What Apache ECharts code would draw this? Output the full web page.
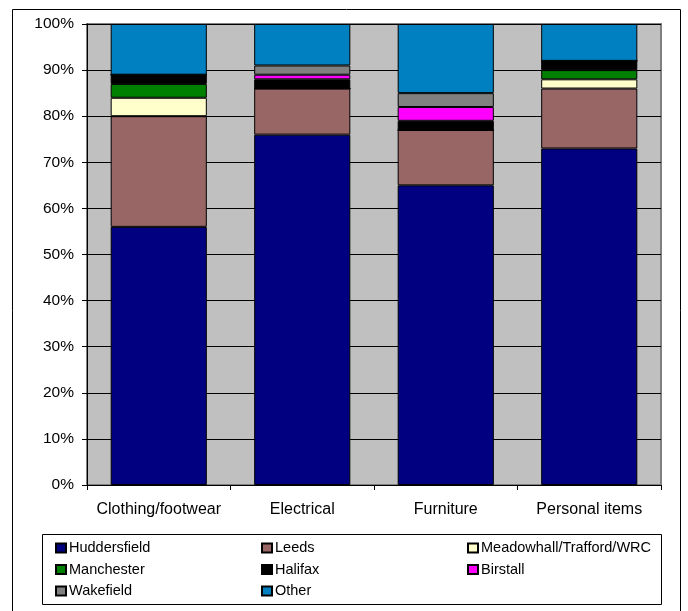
<!DOCTYPE html>
<html>
<head>
<meta charset="utf-8">
<script src="https://cdn.jsdelivr.net/npm/echarts@6/dist/echarts.min.js"></script>
<style>
  html, body { margin: 0; padding: 0; background: #ffffff; }
  #chart { width: 688px; height: 611px; }
</style>
</head>
<body>
<div id="chart"></div>
<script>
// Product categories along the x axis
const categories = ['Clothing/footwear', 'Electrical', 'Furniture', 'Personal items'];

// Share of shopping trips (%) by destination, per category
const huddersfield = [56, 76, 65, 73];
const leeds        = [24, 10, 12, 13];
const meadowhall   = [4, 0, 0, 2];
const manchester   = [3, 0, 0, 2];
const halifax      = [2, 2, 2, 2];
const birstall     = [0, 1, 3, 0];
const wakefield    = [0, 2, 3, 0];
const other        = [11, 9, 15, 8];

// Y axis tick labels
const yTicks = ['0%', '10%', '20%', '30%', '40%', '50%', '60%', '70%', '80%', '90%', '100%'];

const seriesDefs = [
  { name: 'Huddersfield', data: huddersfield, color: '#000080' },
  { name: 'Leeds', data: leeds, color: '#996666' },
  { name: 'Meadowhall/Trafford/WRC', data: meadowhall, color: '#FFFFCC' },
  { name: 'Manchester', data: manchester, color: '#008000' },
  { name: 'Halifax', data: halifax, color: '#000000' },
  { name: 'Birstall', data: birstall, color: '#FF00FF' },
  { name: 'Wakefield', data: wakefield, color: '#808080' },
  { name: 'Other', data: other, color: '#0080C0' }
];

const font = 'Liberation Sans, Arial, sans-serif';

const legendBase = {
  orient: 'vertical',
  icon: 'rect',
  itemWidth: 10,
  itemHeight: 9,
  itemGap: 5.5,
  top: 540,
  textStyle: { fontFamily: font, fontSize: 14.5, color: '#000', lineHeight: 16, padding: [0, 0, 0, -2] },
  selectedMode: false,
  padding: 0
};

const chart = echarts.init(document.getElementById('chart'), null, { renderer: 'canvas' });

chart.setOption({
  animation: false,
  backgroundColor: '#ffffff',
  textStyle: { fontFamily: font },
  grid: {
    left: 87, top: 24, right: 27, bottom: 126,
    show: true,
    backgroundColor: '#C0C0C0',
    borderColor: '#808080',
    borderWidth: 2
  },
  graphic: [
    // outer chart frame
    { type: 'rect', shape: { x: 12.5, y: 9.5, width: 668, height: 610 },
      style: { fill: 'none', stroke: '#000', lineWidth: 1 }, z: 100 },
    // legend frame
    { type: 'rect', shape: { x: 42.5, y: 534.5, width: 619, height: 70 },
      style: { fill: 'none', stroke: '#000', lineWidth: 1 }, z: 100 }
  ],
  legend: [
    Object.assign({}, legendBase, { left: 55, data: ['Huddersfield', 'Manchester', 'Wakefield'] }),
    Object.assign({}, legendBase, { left: 261, data: ['Leeds', 'Halifax', 'Other'] }),
    Object.assign({}, legendBase, { left: 467, data: ['Meadowhall/Trafford/WRC', 'Birstall'] })
  ],
  xAxis: {
    type: 'category',
    data: categories,
    axisLine: { show: true, lineStyle: { color: '#000', width: 1 } },
    axisTick: { show: true, interval: 0, length: 5, lineStyle: { color: '#000' } },
    axisLabel: { color: '#000', fontSize: 16, fontFamily: font, margin: 17, interval: 0 },
    splitLine: { show: false }
  },
  yAxis: {
    type: 'value',
    min: 0,
    max: 100,
    interval: 10,
    axisLine: { show: true, lineStyle: { color: '#000', width: 1 } },
    axisTick: { show: true, length: 5, lineStyle: { color: '#000' } },
    axisLabel: {
      color: '#000', fontSize: 15.5, fontFamily: font, margin: 13,
      formatter: function (v) { return yTicks[Math.round(v / 10)]; }
    },
    splitLine: { show: true, lineStyle: { color: '#000', width: 1 } }
  },
  series: seriesDefs.map(function (s) {
    return {
      name: s.name,
      type: 'bar',
      stack: 'total',
      barCategoryGap: '33%',
      data: s.data,
      itemStyle: { color: s.color, borderColor: '#000', borderWidth: 1 }
    };
  })
});
</script>
</body>
</html>
